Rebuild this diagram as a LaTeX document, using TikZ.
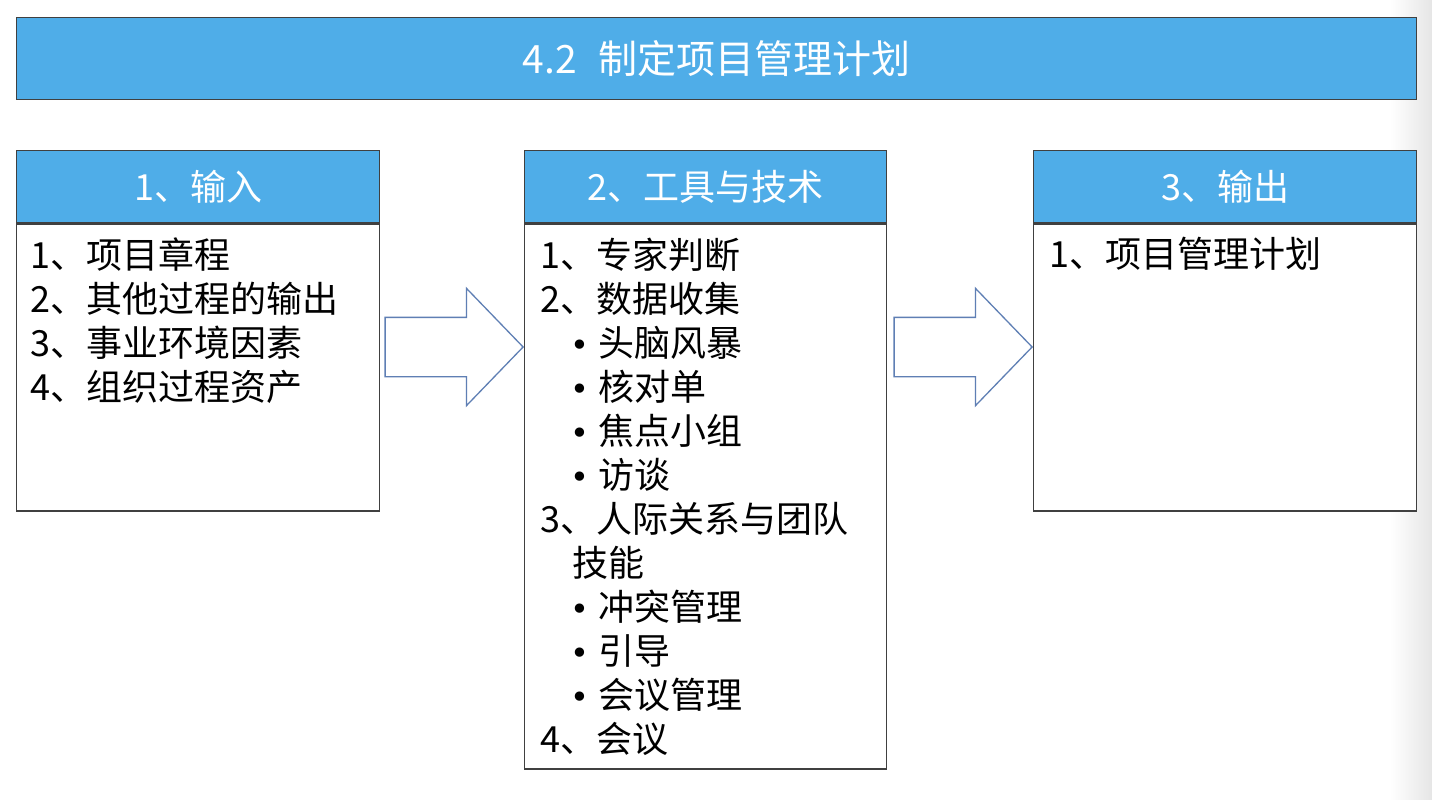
\documentclass[tikz,border=0pt]{standalone}
\usepackage{fontspec}
\setmainfont{Noto Sans CJK SC}
\newfontfamily\dotfont{DejaVu Sans}
\usetikzlibrary{shapes.arrows}

\definecolor{barblue}{HTML}{4FADE8}
\definecolor{arrowline}{HTML}{5F7FB4}
\definecolor{frame}{HTML}{404040}

\begin{document}
\begin{tikzpicture}[
  x=1pt, y=-1pt,
  every node/.style={font=\fontsize{36pt}{44pt}\selectfont},
  bar/.style={draw=frame, line width=1.4pt, fill=barblue, text=white, anchor=north west, inner sep=0pt},
  body/.style={draw=frame, line width=1.4pt, fill=white, anchor=north west, inner sep=0pt},
  items/.style={anchor=north west, align=left, inner sep=0pt},
  bigarrow/.style={single arrow, draw=arrowline, line width=1.3pt, fill=white,
    minimum height=138pt, single arrow head extend=29pt,
    single arrow tip angle=92, inner xsep=0pt, inner ysep=29pt,
    text height=0pt, text depth=0pt, font=\normalsize},
]

\useasboundingbox (0,0) rectangle (1432,800);
\fill[white] (0,0) rectangle (1432,800);
\shade[left color=white, right color=black!10] (1390,0) rectangle (1432,800);

% title bar
\node[bar, minimum width=1400pt, minimum height=82pt,
      font=\fontsize{39pt}{44pt}\selectfont] (title) at (16,17) {4.2\hspace{22pt}制定项目管理计划};

% header bars
\node[bar, minimum width=363pt, minimum height=72pt] (head1) at (16,150) {1、输入};
\node[bar, minimum width=362pt, minimum height=72pt] (head2) at (524,150) {2、工具与技术};
\node[bar, minimum width=383pt, minimum height=72pt] (head3) at (1033,150) {3、输出};

% bodies
\node[body, minimum width=363pt, minimum height=287pt] (body1) at (head1.south west) {};
\node[body, minimum width=362pt, minimum height=545pt] (body2) at (head2.south west) {};
\node[body, minimum width=383pt, minimum height=287pt] (body3) at (head3.south west) {};

\newcommand{\dotitem}[1]{\hspace*{30pt}\makebox[28pt][l]{\dotfont\fontsize{32pt}{44pt}\selectfont •}#1}

\node[items] (list1) at ([xshift=14pt,yshift=-14pt]body1.north west) {%
  1、项目章程\\
  2、其他过程的输出\\
  3、事业环境因素\\
  4、组织过程资产};

\node[items] (list2) at ([xshift=16pt,yshift=-14pt]body2.north west) {%
  1、专家判断\\
  2、数据收集\\
  \dotitem{头脑风暴}\\
  \dotitem{核对单}\\
  \dotitem{焦点小组}\\
  \dotitem{访谈}\\
  3、人际关系与团队\\
  \hspace*{32pt}技能\\
  \dotitem{冲突管理}\\
  \dotitem{引导}\\
  \dotitem{会议管理}\\
  4、会议};

\node[items] (list3) at ([xshift=16pt,yshift=-14pt]body3.north west) {%
  1、项目管理计划};

% block arrows between the boxes
\node[bigarrow, anchor=tip] (arr1) at (body2.north west |- 0,347) {};
\node[bigarrow, anchor=tip] (arr2) at (body3.north west |- 0,347) {};

\end{tikzpicture}
\end{document}
